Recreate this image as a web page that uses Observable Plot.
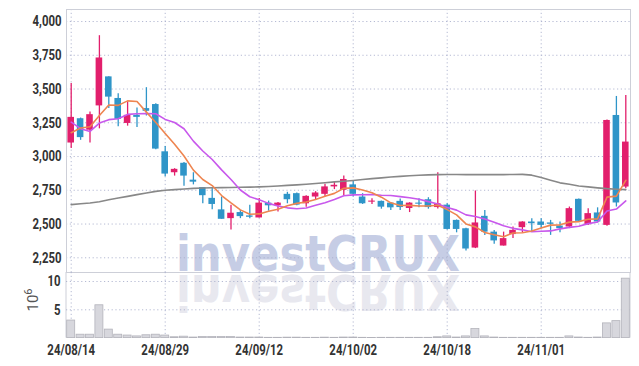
<!DOCTYPE html>
<html><head><meta charset="utf-8">
<script src="https://cdn.jsdelivr.net/npm/d3@7"></script>
<script src="https://cdn.jsdelivr.net/npm/@observablehq/plot@0.6"></script>
<style>
body{margin:0;background:#fff;}
#wrap{position:relative;width:639px;height:366px;overflow:hidden;}
#wrap > svg{position:absolute;left:0;}
</style></head><body><div id="wrap"></div>
<script>
const dates = ["24/08/14","24/08/16","24/08/19","24/08/20","24/08/21","24/08/22","24/08/23","24/08/26","24/08/27","24/08/28",
"24/08/29","24/08/30","24/09/02","24/09/03","24/09/04","24/09/05","24/09/06","24/09/09","24/09/10","24/09/11",
"24/09/12","24/09/13","24/09/19","24/09/20","24/09/23","24/09/24","24/09/25","24/09/26","24/09/27","24/09/30",
"24/10/02","24/10/04","24/10/07","24/10/08","24/10/10","24/10/11","24/10/14","24/10/15","24/10/16","24/10/17",
"24/10/18","24/10/21","24/10/22","24/10/23","24/10/24","24/10/25","24/10/28","24/10/29","24/10/30","24/10/31",
"24/11/01","24/11/04","24/11/05","24/11/06","24/11/07","24/11/08","24/11/11","24/11/12","24/11/13","24/11/14"];
const opens = [3100,3280,3195,3375,3590,3430,3245,3305,3355,3385, 3035,2880,2950,2825,2770,2690,2605,2540,2585,2560,
2545,2655,2635,2720,2725,2650,2700,2720,2775,2750, 2790,2700,2662,2668,2655,2668,2615,2655,2680,2622,
2640,2527,2465,2322,2557,2440,2337,2422,2473,2515, 2515,2508,2485,2478,2683,2495,2582,2490,3304,2774];
const highs = [3540,3285,3330,3895,3590,3465,3405,3360,3510,3390, 3075,2910,2955,2880,2770,2770,2700,2640,2600,2640,
2690,2670,2660,2735,2730,2710,2740,2795,2810,2855, 2815,2725,2688,2670,2657,2685,2658,2688,2695,2880,
2650,2530,2468,2745,2600,2453,2440,2478,2517,2540, 2540,2527,2515,2626,2685,2614,2620,3270,3445,3452];
const lows = [3060,3120,3100,3205,3355,3220,3225,3215,3300,3050, 2850,2855,2780,2790,2650,2605,2535,2455,2540,2540,
2545,2595,2590,2650,2635,2625,2680,2700,2755,2710, 2700,2645,2645,2610,2600,2600,2585,2620,2610,2612,
2455,2435,2300,2318,2415,2350,2337,2392,2435,2440, 2465,2416,2435,2466,2518,2490,2508,2483,2626,2762];
const closes = [3290,3140,3310,3730,3440,3275,3305,3290,3335,3055, 2870,2905,2855,2810,2710,2645,2535,2580,2555,2550,
2655,2635,2655,2680,2640,2705,2730,2775,2787,2830, 2720,2650,2670,2625,2620,2622,2655,2647,2622,2650,
2460,2460,2315,2508,2440,2375,2392,2453,2515,2503, 2490,2498,2466,2614,2520,2577,2515,3267,2656,3107];
const ma5 = [3176,3211,3220,3304,3382,3379,3412,3408,3329,3252, 3171,3091,3004,2899,2830,2785,2711,2656,2605,2573,
2575,2595,2610,2635,2653,2663,2682,2706,2727,2765, 2768,2752,2731,2699,2657,2637,2638,2634,2633,2639,
2607,2568,2501,2479,2437,2420,2406,2434,2435,2448, 2471,2492,2494,2514,2518,2535,2538,2699,2707,2824];
const ma10 = [3255,3206,3186,3248,3273,3280,3312,3317,3318,3317, 3275,3252,3206,3114,3041,2978,2901,2830,2752,2702,
2680,2653,2633,2620,2613,2619,2639,2658,2681,2709, 2716,2717,2719,2713,2711,2703,2695,2683,2666,2648,
2622,2603,2568,2556,2538,2514,2487,2468,2457,2443, 2446,2449,2464,2475,2483,2503,2515,2597,2611,2671];
const ma60 = [2644,2650,2656,2665,2680,2693,2705,2718,2730,2742, 2750,2755,2760,2764,2767,2769,2770,2771,2772,2773,
2775,2778,2782,2786,2790,2795,2800,2806,2812,2817, 2823,2830,2836,2842,2848,2853,2858,2861,2864,2866,
2867,2867,2866,2866,2866,2866,2866,2867,2868,2862, 2845,2825,2805,2795,2782,2775,2768,2762,2758,2755];
const volumes = [3.1,0.6,0.6,5.8,1.5,0.6,0.45,0.3,0.5,0.6, 0.45,0.15,0.25,0.1,0.2,0.2,0.2,0.2,0.1,0.1,
0.1,0.05,0.05,0.08,0.08,0.05,0.05,0.08,0.05,0.1, 0.1,0.05,0.03,0.05,0.05,0.05,0.05,0.05,0.05,0.15,
0.3,0.1,0.3,1.6,0.3,0.1,0.05,0.05,0.05,0.05, 0.05,0.05,0.05,0.3,0.1,0.05,0.1,2.6,3.0,10.5];
const priceTicks = [2250,2500,2750,3000,3250,3500,3750,4000];
const volumeTicks = [5,10];
const dateTicks = ["24/08/14","24/08/29","24/09/12","24/10/02","24/10/18","24/11/01"];
const watermark = "investCRUX";

const rows = dates.map((d,i)=>({date:d, open:opens[i], high:highs[i], low:lows[i], close:closes[i],
  ma5:ma5[i], ma10:ma10[i], ma60:ma60[i], volume:volumes[i]}));
const UP="#e21f6c", DOWN="#2f95c8";
const col = d => d.close >= d.open ? UP : DOWN;
const FONT = "Roboto,'Liberation Sans','DejaVu Sans',sans-serif";
const grid = {stroke:"#a8aecb", strokeOpacity:0.85, strokeDasharray:"1.2,2.6", strokeWidth:1};
const style = {fontFamily:FONT, fontSize:"15px", fontWeight:"bold", color:"#333", background:"transparent", overflow:"visible"};

const price = Plot.plot({
  width:639, height:272, marginTop:9, marginRight:9, marginBottom:0, marginLeft:66,
  style,
  x:{type:"band", domain:dates, paddingInner:0.3, paddingOuter:0.15, round:false, axis:null},
  y:{domain:[2141,4089]},
  marks:[
    Plot.gridX(dateTicks, grid),
    Plot.gridY(priceTicks, grid),
    Plot.frame({stroke:"#cdcfd8"}),
    Plot.ruleX(rows, {x:"date", y1:"low", y2:"high", stroke:col, strokeWidth:1.3}),
    Plot.barY(rows, {x:"date", y1:"open", y2:"close", fill:col}),
    Plot.lineY(rows, {x:"date", y:"ma60", stroke:"#888888", strokeWidth:1.6}),
    Plot.lineY(rows, {x:"date", y:"ma10", stroke:"#c858ec", strokeWidth:1.6}),
    Plot.lineY(rows, {x:"date", y:"ma5", stroke:"#ee8550", strokeWidth:1.6}),
    Plot.axisY({ticks:priceTicks, tickSize:0, tickPadding:5, tickFormat:d3.format(","), label:null})
  ]
});

const vol = Plot.plot({
  width:639, height:94, marginTop:0, marginRight:9, marginBottom:28.4, marginLeft:66,
  style,
  x:{type:"band", domain:dates, padding:0, round:false},
  y:{domain:[0,11.59]},
  marks:[
    Plot.gridX(dateTicks, grid),
    Plot.gridY(volumeTicks, grid),
    Plot.barY(rows, {x:"date", y:"volume", fill:"#d7d7dd", stroke:"#b3b3bb", strokeWidth:0.8, insetLeft:0.7, insetRight:0.7}),
    Plot.axisX({ticks:dateTicks, tickSize:0, tickPadding:6, label:null}),
    Plot.axisY({ticks:volumeTicks, tickSize:0, tickPadding:6, label:null})
  ]
});

// condense the tick labels horizontally (narrow DIN-like face in the reference)
function condense(svg, k) {
  d3.select(svg).selectAll("g[aria-label$='tick label'] text").each(function() {
    const t = d3.select(this);
    let tr = t.attr("transform") || "";
    const x = t.attr("x");
    if (x != null && !isNaN(+x)) { tr += ` translate(${x},0)`; t.attr("x", null); }
    const y = t.attr("y");
    if (y != null && !isNaN(+y)) { tr += ` translate(0,${y})`; t.attr("y", null); }
    t.attr("transform", `${tr} scale(${k},1)`);
  });
}
condense(price, 0.76);
condense(vol, 0.76);

const wrap = d3.select("#wrap");
const bg = wrap.append("svg").attr("width",639).attr("height",366).style("top","0px");
const [xl, xr] = vol.scale("x").range;
const WM = "'DejaVu Sans','Liberation Sans',sans-serif";
bg.append("text").text(watermark).attr("x",176).attr("y",271)
  .attr("font-family",WM).attr("font-weight","bold")
  .attr("font-size",50).attr("textLength",284).attr("lengthAdjust","spacingAndGlyphs").attr("fill","#c6cde5");
bg.append("g").attr("transform","translate(0,546) scale(1,-1)")
  .append("text").text(watermark).attr("x",176).attr("y",271)
  .attr("font-family",WM).attr("font-weight","bold")
  .attr("font-size",50).attr("textLength",284).attr("lengthAdjust","spacingAndGlyphs").attr("fill","#e8e8ef");
[xl, xr].forEach(x => bg.append("line").attr("x1",x).attr("x2",x).attr("y1",272).attr("y2",337.6)
  .attr("stroke","#cdcfd8"));
const lab = bg.append("text").attr("transform","translate(38,300) rotate(-90)").attr("text-anchor","middle")
  .attr("font-family",FONT).attr("font-size",15).attr("fill","#555");
lab.append("tspan").text("10");
lab.append("tspan").text("6").attr("font-size",11).attr("dy",-6);

const p = wrap.node().appendChild(price); d3.select(p).style("top","0px");
const v = wrap.node().appendChild(vol); d3.select(v).style("top","272px");
</script></body></html>
